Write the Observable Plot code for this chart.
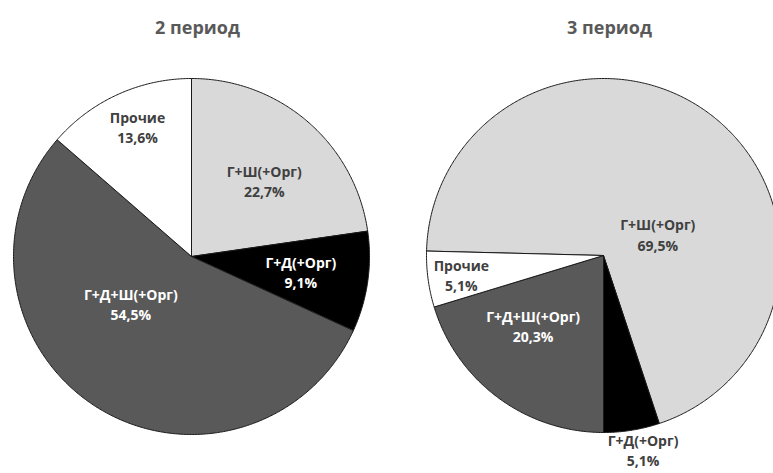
<!DOCTYPE html>
<html><head><meta charset="utf-8">
<script src="https://cdn.jsdelivr.net/npm/d3@7"></script>
<script src="https://cdn.jsdelivr.net/npm/@observablehq/plot@0.6"></script>
<style>html,body{margin:0;padding:0;background:#fff;overflow:hidden;}</style>
</head><body><div id="chart"></div>
<script>
// ---- data ----
const categories = ["Г+Ш(+Орг)", "Г+Д(+Орг)", "Г+Д+Ш(+Орг)", "Прочие"];
const periods = ["2 период", "3 период"];
const values2 = [22.7, 9.1, 54.5, 13.6];
const values3 = [69.5, 5.1, 20.3, 5.1];
const valueLabels2 = ["22,7%", "9,1%", "54,5%", "13,6%"];
const valueLabels3 = ["69,5%", "5,1%", "20,3%", "5,1%"];

// ---- layout / style ----
const W = 773, H = 473;
const colors = ["#d9d9d9", "#000000", "#595959", "#ffffff"];
const darkText = "#404040";
const pies = [
  {period: periods[0], values: values2, labels: valueLabels2, cx: 191, cy: 256, r: 178, start: 0,
   labelPos: [[43.8, 0.59], [97.8, 0.62], [232.4, 0.43], [337.4, 0.79]]},
  {period: periods[1], values: values3, labels: valueLabels3, cx: 603, cy: 255, r: 177, start: 271.44,
   labelPos: [[68.3, 0.33], [168.5, 1.12], [225.2, 0.56], [262.4, 0.81]]}
];

const rad = a => a * Math.PI / 180;
const pt = (p, a, f) => ({x: p.cx + p.r * f * Math.sin(rad(a)), y: p.cy - p.r * f * Math.cos(rad(a))});

const slicePts = [];
const labelRows = [];
const titleRows = [];
pies.forEach((p, pi) => {
  const total = d3.sum(p.values);
  let a0 = p.start;
  p.values.forEach((v, i) => {
    const a1 = a0 + v / total * 360;
    const key = pi + "-" + i;
    slicePts.push({key, cat: categories[i], x: p.cx, y: p.cy});
    const n = Math.max(2, Math.ceil((a1 - a0) / 0.5));
    for (let k = 0; k <= n; k++) {
      const q = pt(p, a0 + (a1 - a0) * k / n, 1);
      slicePts.push({key, cat: categories[i], ...q});
    }
    slicePts.push({key, cat: categories[i], x: p.cx, y: p.cy});
    const [la, lf] = p.labelPos[i];
    const lp = pt(p, la, lf);
    const inside = lf < 1;
    const dark = inside && (i === 1 || i === 2);
    labelRows.push({...lp, text: categories[i] + "\n" + p.labels[i], fill: dark ? "#ffffff" : darkText});
    a0 = a1;
  });
  titleRows.push({x: p.cx + 6, y: 28, text: p.period});
});

const chart = Plot.plot({
  width: W, height: H,
  margin: 0,
  x: {domain: [0, W], range: [0, W], axis: null},
  y: {domain: [0, H], range: [0, H], axis: null},
  color: {domain: categories, range: colors},
  style: {fontFamily: "'Open Sans', 'Noto Sans', sans-serif", background: "#fff"},
  marks: [
    Plot.line(slicePts, {x: "x", y: "y", z: "key", fill: "cat", stroke: "#1a1a1a", strokeWidth: 1, strokeLinejoin: "round", clip: true}),
    Plot.text(labelRows, {x: "x", y: "y", text: "text", fill: d => d.fill, fontSize: 14, fontWeight: "bold", lineHeight: 1.45, lineAnchor: "middle"}),
    Plot.text(titleRows, {x: "x", y: "y", text: "text", fill: "#595959", fontSize: 18, fontWeight: "bold"})
  ]
});
document.getElementById("chart").appendChild(chart);
</script>
</body></html>
